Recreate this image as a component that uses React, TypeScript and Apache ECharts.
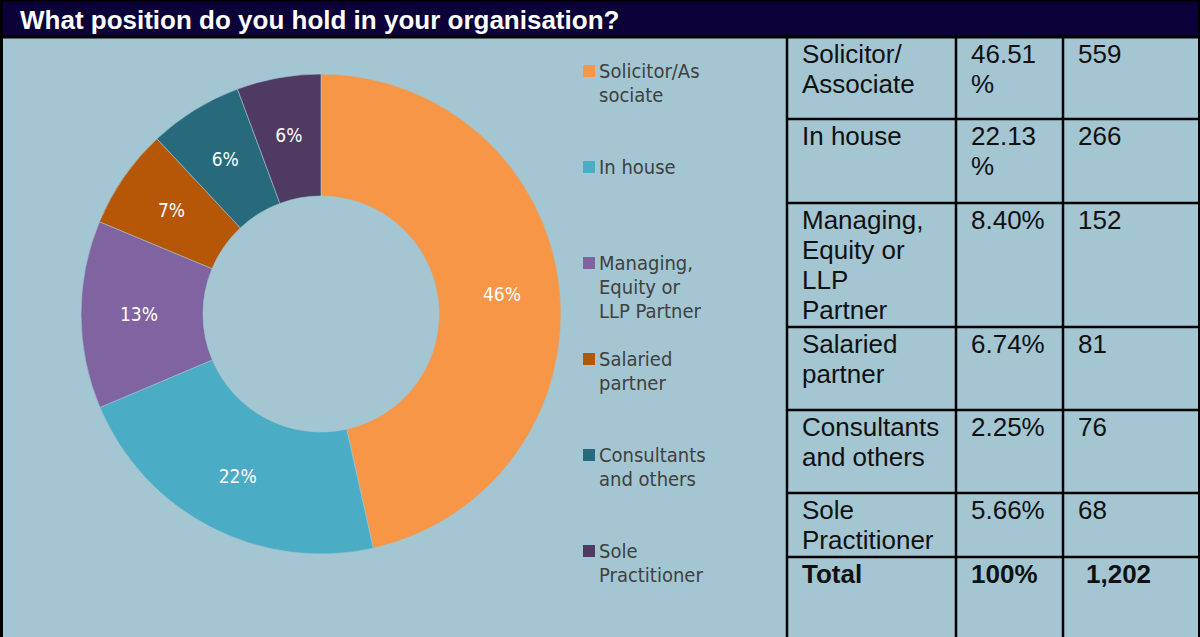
import React, { useEffect, useRef } from "react";
import * as echarts from "echarts";

const TITLE = "What position do you hold in your organisation?";
const categories = [
  "Solicitor/Associate",
  "In house",
  "Managing, Equity or LLP Partner",
  "Salaried partner",
  "Consultants and others",
  "Sole Practitioner",
];
const counts = [559, 266, 152, 81, 76, 68];
const colors = ["#F79646", "#4BACC6", "#8064A2", "#B65708", "#276A7C", "#4F3B62"];
const legendLabels = [
  "Solicitor/As\nsociate",
  "In house",
  "Managing,\nEquity or\nLLP Partner",
  "Salaried\npartner",
  "Consultants\nand others",
  "Sole\nPractitioner",
];
const tableNames = [
  "Solicitor/\nAssociate",
  "In house",
  "Managing,\nEquity or\nLLP\nPartner",
  "Salaried\npartner",
  "Consultants\nand others",
  "Sole\nPractitioner",
];
const tablePercents = ["46.51\n%", "22.13\n%", "8.40%", "6.74%", "2.25%", "5.66%"];
const tableCounts = ["559", "266", "152", "81", "76", "68"];
const totalRow = ["Total", "100%", "1,202"];

const BG = "#A3C6D2";
const NAVY = "#0B0038";

export default function App() {
  const ref = useRef<HTMLDivElement>(null);
  useEffect(() => {
    if (!ref.current) return;
    const chart = echarts.init(ref.current, null, { renderer: "svg" });
    const rowYs = [37, 119, 203, 327, 410, 493, 557, 637];
    const colXs = [787, 956, 1063, 1200];
    const tableFont = "'Liberation Sans', Arial, sans-serif";
    const legendFont = "'DejaVu Sans Condensed', 'DejaVu Sans', sans-serif";

    const graphics: any[] = [];
    graphics.push({ type: "rect", z: -10, shape: { x: 0, y: 0, width: 1200, height: 637 }, style: { fill: BG } });
    graphics.push({ type: "rect", z: 1, shape: { x: 0, y: 0, width: 1200, height: 37 }, style: { fill: NAVY, stroke: "#000", lineWidth: 3 } });
    graphics.push({
      type: "text", z: 2, x: 20, y: 20,
      style: { text: TITLE, fill: "#fff", font: `bold 26px ${tableFont}`, verticalAlign: "middle", align: "left" },
    });
    graphics.push({ type: "line", z: 2, shape: { x1: 1.5, y1: 0, x2: 1.5, y2: 637 }, style: { stroke: "#000", lineWidth: 3 } });
    graphics.push({ type: "line", z: 2, shape: { x1: 1199, y1: 0, x2: 1199, y2: 637 }, style: { stroke: "#000", lineWidth: 2 } });

    legendLabels.forEach((lab, i) => {
      const cy = 71 + 96 * i;
      graphics.push({ type: "rect", z: 2, shape: { x: 583, y: cy - 6, width: 12, height: 12 }, style: { fill: colors[i] } });
      graphics.push({
        type: "text", z: 2, x: 599, y: cy - 12,
        style: { text: lab, fill: "#404040", fontFamily: legendFont, fontSize: 20, lineHeight: 24, verticalAlign: "top", align: "left" },
      });
    });

    colXs.slice(0, 3).forEach((x) => {
      graphics.push({ type: "line", z: 3, shape: { x1: x, y1: 37, x2: x, y2: 637 }, style: { stroke: "#000", lineWidth: 2.5 } });
    });
    rowYs.slice(1, 7).forEach((y) => {
      graphics.push({ type: "line", z: 3, shape: { x1: colXs[0], y1: y, x2: 1200, y2: y }, style: { stroke: "#000", lineWidth: 2.5 } });
    });
    const cellText = (txt: string, col: number, row: number, bold = false, dx = 0) => {
      graphics.push({
        type: "text", z: 4, x: colXs[col] + 15 + dx, y: rowYs[row] + 2,
        style: {
          text: txt, fill: "#111", fontFamily: tableFont, fontSize: 26, fontWeight: bold ? "bold" : "normal",
          lineHeight: 30, verticalAlign: "top", align: "left",
        },
      });
    };
    tableNames.forEach((n, i) => {
      cellText(n, 0, i);
      cellText(tablePercents[i], 1, i);
      cellText(tableCounts[i], 2, i);
    });
    cellText(totalRow[0], 0, 6, true);
    cellText(totalRow[1], 1, 6, true);
    cellText(totalRow[2], 2, 6, true, 8);

    chart.setOption({
      animation: false,
      backgroundColor: BG,
      color: colors,
      graphic: graphics,
      series: [
        {
          type: "pie",
          center: [321, 314],
          radius: [118, 240],
          startAngle: 90,
          clockwise: true,
          percentPrecision: 0,
          label: {
            show: true,
            position: "inside",
            formatter: "{d}%",
            color: "#fff",
            fontFamily: legendFont,
            fontSize: 19,
          },
          labelLine: { show: false },
          itemStyle: { borderColor: BG, borderWidth: 0.6 },
          emphasis: { disabled: true },
          data: categories.map((c, i) => ({ name: c, value: counts[i] })),
        },
      ],
    });
    return () => chart.dispose();
  }, []);
  return <div ref={ref} style={{ position: "fixed", left: 0, top: 0, width: 1200, height: 637 }} />;
}
